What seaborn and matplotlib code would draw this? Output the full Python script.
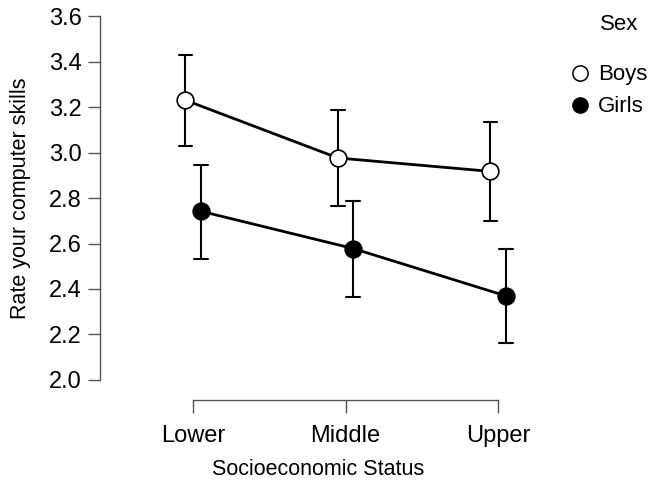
import matplotlib
matplotlib.use("Agg")
import matplotlib.pyplot as plt
import seaborn as sns
import pandas as pd
from matplotlib.lines import Line2D

# values
ses = ["Lower", "Middle", "Upper"]
sex = ["Boys", "Girls"]
boys_mean = [3.23, 2.976, 2.917]
boys_lo = [3.03, 2.767, 2.70]
boys_hi = [3.428, 3.185, 3.133]
girls_mean = [2.742, 2.578, 2.370]
girls_lo = [2.533, 2.367, 2.162]
girls_hi = [2.946, 2.787, 2.578]

# long table: lo / mean / hi per cell, median = mean, min-max = interval
rows = []
for s, means, los, his in [("Boys", boys_mean, boys_lo, boys_hi),
                           ("Girls", girls_mean, girls_lo, girls_hi)]:
    for lvl, m, lo, hi in zip(ses, means, los, his):
        for v in (lo, m, hi):
            rows.append({"Socioeconomic Status": lvl, "Sex": s, "value": v})
df = pd.DataFrame(rows)

sns.set_style("white")
plt.rcParams["font.family"] = ["Liberation Sans", "DejaVu Sans"]
plt.rcParams["text.color"] = "black"
plt.rcParams["axes.labelcolor"] = "black"

fig = plt.figure(figsize=(6.51, 4.84), dpi=100)
ax = fig.add_axes([0.1536, 0.2149, 0.67, 0.752])

sns.pointplot(
    data=df, x="Socioeconomic Status", y="value", hue="Sex",
    order=ses, hue_order=sex,
    estimator="median", errorbar=lambda v: (v.min(), v.max()),
    palette=["black", "black"], dodge=0.1, capsize=0.09,
    markers="o", markersize=12, markeredgewidth=1.2,
    linewidth=2, err_kws={"linewidth": 1.5},
    legend=False, ax=ax,
)

marker_lines = [l for l in ax.lines if l.get_marker() == "o"]
for l in marker_lines:
    l.set_zorder(4)
marker_lines[0].set_markerfacecolor("white")

ax.set_ylim(2.0, 3.6)
ax.set_xlim(-0.61, 2.25)
ax.set_yticks([2.0, 2.2, 2.4, 2.6, 2.8, 3.0, 3.2, 3.4, 3.6])
ax.set_yticklabels([f"{t:.1f}" for t in ax.get_yticks()])

for side in ["top", "right"]:
    ax.spines[side].set_visible(False)
ax.spines["bottom"].set_position(("outward", 14.4))
ax.spines["bottom"].set_bounds(0, 2)
ax.spines["left"].set_bounds(2.0, 3.6)
for side in ["left", "bottom"]:
    ax.spines[side].set_color("#555555")
    ax.spines[side].set_linewidth(1)
ax.tick_params(axis="both", direction="out", length=9, width=1,
               color="#555555", labelsize=17, labelcolor="black",
               left=True, bottom=True)
ax.tick_params(axis="y", pad=4)
ax.tick_params(axis="x", pad=9)

ax.set_xlabel("Socioeconomic Status", fontsize=15.5, labelpad=9, color="black")
ax.set_ylabel("Rate your computer skills", fontsize=15.5, labelpad=13, color="black")

handles = [
    Line2D([], [], linestyle="none", marker="o", markersize=11,
           markerfacecolor="white", markeredgecolor="black", markeredgewidth=1.1),
    Line2D([], [], linestyle="none", marker="o", markersize=11,
           markerfacecolor="black", markeredgecolor="black"),
]
leg = fig.legend(handles, sex, frameon=False, loc="upper left",
                 bbox_to_anchor=(0.857, 0.89), fontsize=16,
                 handletextpad=0.3, labelspacing=0.5, handlelength=1.0,
                 borderpad=0)
for t in leg.get_texts():
    t.set_color("black")
fig.text(600 / 651, 1 - 24 / 484, "Sex", fontsize=16, ha="left", va="center",
         color="black")

fig.savefig("out.png", dpi=100)
plt.close(fig)
